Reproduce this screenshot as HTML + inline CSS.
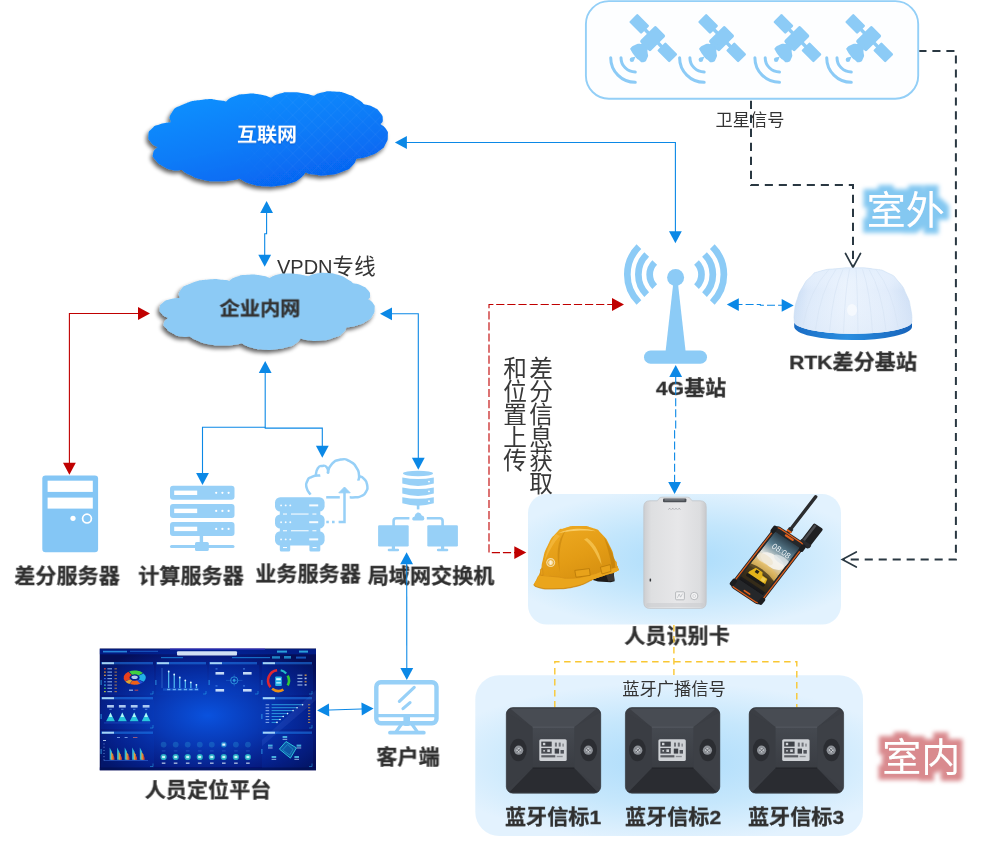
<!DOCTYPE html>
<html lang="zh-CN">
<head>
<meta charset="utf-8">
<title>人员定位系统网络拓扑</title>
<style>
html,body{margin:0;padding:0;background:#fff;}
body{width:999px;height:842px;position:relative;overflow:hidden;font-family:"Liberation Sans","Noto Sans CJK SC",sans-serif;}
#stage{position:absolute;left:0;top:0;width:999px;height:842px;overflow:hidden;}
svg{position:absolute;left:0;top:0;}
.t{position:absolute;white-space:nowrap;line-height:1;color:#303030;will-change:transform;}
.b{font-weight:700;font-size:21.1px;-webkit-text-stroke:0.3px #303030;}
.v{writing-mode:vertical-rl;font-size:23.7px;line-height:26.1px;color:#383838;letter-spacing:-0.75px;}
</style>
</head>
<body>
<div id="stage">
<svg width="999" height="842" viewBox="0 0 999 842">
<defs>
<radialGradient id="gPanel" cx="0.5" cy="0.5" r="0.6" gradientTransform="translate(0.5 0.5) scale(1 0.9) translate(-0.5 -0.5)">
<stop offset="0" stop-color="#abdcfb"/><stop offset="0.5" stop-color="#c3e6fc"/><stop offset="1" stop-color="#e2f2fe"/>
</radialGradient>
<radialGradient id="gPanel2" cx="0.5" cy="0.55" r="0.62" gradientTransform="translate(0.5 0.5) scale(1 0.8) translate(-0.5 -0.5)">
<stop offset="0" stop-color="#addcfb"/><stop offset="0.55" stop-color="#c6e7fc"/><stop offset="1" stop-color="#e3f2fe"/>
</radialGradient>
</defs>
<rect x="585.9" y="1.1" width="332.3" height="97.6" rx="23" ry="23" fill="#fdfeff" stroke="#93cff7" stroke-width="1.9"/>
<rect x="528" y="494" width="313" height="130.6" rx="19" fill="url(#gPanel)"/>
<rect x="475.3" y="675.2" width="387.7" height="160.8" rx="24" fill="url(#gPanel2)"/>
</svg>
<div class="t b" style="left:67.4px;top:576.4px;transform:translate(-50%,-50%) scaleY(0.94);">差分服务器</div>
<div class="t b" style="left:190.7px;top:576.4px;transform:translate(-50%,-50%) scaleY(0.94);">计算服务器</div>
<div class="t b" style="left:307.8px;top:573.7px;transform:translate(-50%,-50%) scaleY(0.94);">业务服务器</div>
<div class="t b" style="left:430.5px;top:575.6px;transform:translate(-50%,-50%) scaleY(0.94);">局域网交换机</div>
<div class="t b" style="left:690.6px;top:388.2px;transform:translate(-50%,-50%) scaleY(0.94);">4G基站</div>
<div class="t b" style="left:853.4px;top:361.5px;transform:translate(-50%,-50%) scaleY(0.94);">RTK差分基站</div>
<div class="t b" style="left:676.5px;top:635.7px;transform:translate(-50%,-50%) scaleY(0.94);">人员识别卡</div>
<div class="t b" style="left:207.9px;top:789.8px;transform:translate(-50%,-50%) scaleY(0.94);">人员定位平台</div>
<div class="t b" style="left:408.3px;top:756.7px;transform:translate(-50%,-50%) scaleY(0.94);">客户端</div>
<div class="t b" style="left:552.8px;top:817.1px;transform:translate(-50%,-50%) scaleY(0.94);">蓝牙信标1</div>
<div class="t b" style="left:672.5px;top:817.1px;transform:translate(-50%,-50%) scaleY(0.94);">蓝牙信标2</div>
<div class="t b" style="left:795.8px;top:817.1px;transform:translate(-50%,-50%) scaleY(0.94);">蓝牙信标3</div>
<div class="t " style="left:749.6px;top:121.2px;transform:translate(-50%,-50%);font-size:17.2px;color:#333;">卫星信号</div>
<div class="t " style="left:674px;top:690.3px;transform:translate(-50%,-50%);font-size:17.25px;color:#333;">蓝牙广播信号</div>
<div class="t" id="vpdn" style="left:277px;top:254.6px;font-size:20px;line-height:24px;color:#333;">VPDN<span style="font-size:21.4px;letter-spacing:0.3px;">专线</span></div>
<div class="t v" style="left:500.2px;top:356.3px;height:150px;">差分信息获取<br>和位置上传</div>
<svg width="999" height="842" viewBox="0 0 999 842">
<defs>
<linearGradient id="gCloud" x1="0.15" y1="0" x2="0.75" y2="1">
<stop offset="0" stop-color="#0d92ff"/><stop offset="0.5" stop-color="#0a7cf8"/><stop offset="1" stop-color="#0560f0"/>
</linearGradient>
<filter id="fSh" x="-10%" y="-15%" width="120%" height="135%">
<feGaussianBlur in="SourceAlpha" stdDeviation="1.9"/><feOffset dx="-2" dy="2.8"/>
<feComponentTransfer><feFuncA type="linear" slope="0.62"/></feComponentTransfer>
<feMerge><feMergeNode/><feMergeNode in="SourceGraphic"/></feMerge>
</filter>
<pattern id="pGrid" width="9" height="9" patternUnits="userSpaceOnUse" patternTransform="rotate(45)">
<path d="M0,0H9M0,0V9" stroke="#ffffff" stroke-opacity="0.07" stroke-width="1" fill="none"/>
</pattern>
<linearGradient id="gGridMask" x1="0" y1="0" x2="1" y2="0"><stop offset="0.35" stop-color="#000"/><stop offset="0.6" stop-color="#fff"/></linearGradient>
<mask id="mGrid"><rect x="140" y="80" width="260" height="120" fill="url(#gGridMask)"/></mask>
</defs>
<polyline points="400,142.5 675.4,142.5 675.4,238" fill="none" stroke="#0b88e6" stroke-width="1.1"/>
<polygon points="394.9,142.5 406.9,136.1 406.9,148.9" fill="#0b88e6"/>
<polygon points="675.4,243.3 669,231.3 681.8,231.3" fill="#0b88e6"/>
<polyline points="266.6,206 266.6,233.7 264.7,233.7 264.7,260" fill="none" stroke="#0b88e6" stroke-width="1.1"/>
<polygon points="266.6,200.9 273,212.9 260.2,212.9" fill="#0b88e6"/>
<polygon points="264.7,266.7 258.3,254.7 271.1,254.7" fill="#0b88e6"/>
<polyline points="145,313.5 69.4,313.5 69.4,470" fill="none" stroke="#c00000" stroke-width="1.1"/>
<polygon points="150,313.5 138,319.9 138,307.1" fill="#c00000"/>
<polygon points="69.4,474.8 63,462.8 75.8,462.8" fill="#c00000"/>
<polyline points="385,313.8 418.3,313.8 418.3,465" fill="none" stroke="#0b88e6" stroke-width="1.1"/>
<polygon points="380,313.8 392,307.4 392,320.2" fill="#0b88e6"/>
<polygon points="418.3,469.8 411.9,457.8 424.7,457.8" fill="#0b88e6"/>
<polyline points="265.2,366 265.2,428.1" fill="none" stroke="#0b88e6" stroke-width="1.1"/>
<polyline points="202.5,480 202.5,427.3 265.2,427.3" fill="none" stroke="#0b88e6" stroke-width="1.1"/>
<polyline points="264.7,428.1 322.3,428.1 322.3,453" fill="none" stroke="#0b88e6" stroke-width="1.1"/>
<polygon points="265.2,361 271.6,373 258.8,373" fill="#0b88e6"/>
<polygon points="202.5,485 196.1,473 208.9,473" fill="#0b88e6"/>
<polygon points="322.3,457.8 315.9,445.8 328.7,445.8" fill="#0b88e6"/>
<polyline points="406.7,557 406.8,675" fill="none" stroke="#0b88e6" stroke-width="1.1"/>
<polygon points="406.6,552.3 413,564.3 400.2,564.3" fill="#0b88e6"/>
<polygon points="406.8,680 400.4,668 413.2,668" fill="#0b88e6"/>
<polyline points="322,710.2 369,708.8" fill="none" stroke="#0b88e6" stroke-width="1.1"/>
<polygon points="317.1,710.4 328.9,703.6 329.3,716.4" fill="#0b88e6"/>
<polygon points="373.6,708.6 361.8,715.4 361.4,702.6" fill="#0b88e6"/>
<polyline points="493.4,304.5 489,304.5 489,552.6 515,552.6" fill="none" stroke="#c00000" stroke-width="1.1" stroke-dasharray="8.2 2.9"/>
<polyline points="496.2,304.5 613,304.5" fill="none" stroke="#c00000" stroke-width="1.1" stroke-dasharray="8.2 2.9"/>
<polygon points="624,304.5 612,310.9 612,298.1" fill="#c00000"/>
<polygon points="526.3,552.6 514.3,559 514.3,546.2" fill="#c00000"/>
<polyline points="738,304.5 760.4,304.5 760.4,305.3 782,305.3" fill="none" stroke="#0b88e6" stroke-width="1.1" stroke-dasharray="8 3.1" stroke-dashoffset="3.5"/>
<polygon points="726.8,304.6 738.8,298.2 738.8,311" fill="#0b88e6"/>
<polygon points="793.7,305.4 781.7,311.8 781.7,299" fill="#0b88e6"/>
<polyline points="675.7,376 675.7,430.5 674.6,430.5 674.6,484" fill="none" stroke="#0b88e6" stroke-width="1.1" stroke-dasharray="8 3.1"/>
<polygon points="675.7,365 682.1,377 669.3,377" fill="#0b88e6"/>
<polygon points="674.6,494.1 668.2,482.1 681,482.1" fill="#0b88e6"/>
<polyline points="751,100.8 751,185 853,185 853,266" fill="none" stroke="#2a3842" stroke-width="2" stroke-dasharray="8.1 5.9"/>
<polyline points="845.5,253.5 853,267.5 860.5,253.5" fill="none" stroke="#2a3842" stroke-width="1.7" stroke-linecap="round" stroke-linejoin="miter"/>
<polyline points="919.3,51 955.9,51 955.9,559.5 843.5,559.5" fill="none" stroke="#2a3842" stroke-width="2" stroke-dasharray="8.1 5.88" stroke-dashoffset="0.9"/>
<polyline points="856.3,552 842.3,559.5 856.3,567" fill="none" stroke="#2a3842" stroke-width="1.7" stroke-linecap="round" stroke-linejoin="miter"/>
<polyline points="673.9,625 673.9,675" fill="none" stroke="#f9c732" stroke-width="1.4" stroke-dasharray="6.5 4.5"/>
<polyline points="554.8,707.5 554.8,661.8 796.8,661.8 796.8,707.5" fill="none" stroke="#f9c732" stroke-width="1.4" stroke-dasharray="6.5 4.5"/>
<g filter="url(#fSh)"><path d="M170.7,122.2 C171,119.2 167.5,119 171.6,113.1 C175.7,107.2 172.7,109 183.1,104.6 C193.5,100.2 190.9,101.3 202.7,99.8 C214.5,98.3 210.6,99.6 218.4,100.2 C226.2,100.8 223.5,101.1 226,101.5 C228.7,99.8 227.3,99 234,96.5 C240.7,94 237.3,94.6 246,94 C254.7,93.4 251.7,93.3 260,94.6 C268.3,95.9 267.3,96.7 271,97.8 C274,96.4 273.5,95.4 280,93.6 C286.5,91.8 282.8,92.4 290.5,92.3 C298.2,92.2 295.2,92 303,93.2 C310.8,94.4 310.3,94.9 314,95.8 C316.7,94.7 315.3,94 322,92.6 C328.7,91.2 325.7,91.1 334,91.6 C342.3,92.1 339,91.3 347,94 C355,96.7 352.3,96.2 358,99.6 C363.7,103 362,102.7 364,104.3 C367,105.2 367.7,104.3 373,107 C378.3,109.7 376.7,108.2 380,112.4 C383.3,116.6 382.6,115.6 382.8,119.5 C383,123.4 381.3,122.6 380.6,124.2 C382.4,125.8 383.6,125.1 386,129 C388.4,132.9 388,131 387.8,136 C387.6,141 388.1,139.2 385.5,144 C382.9,148.8 385.5,146.3 380,150.3 C374.5,154.3 376.8,153.2 369,156 C361.2,158.8 360.7,157.9 356.5,158.8 C355,161.2 356.4,161.9 352,166 C347.6,170.1 351.5,168.2 343.4,171.2 C335.3,174.2 337.5,174 327.7,175.1 C317.9,176.2 321.4,175.5 314,174.6 C306.6,173.7 308.3,173.2 305.5,172.5 C303.7,174.5 304.8,175 300,178.5 C295.2,182 298.4,180.6 291.1,183 C283.8,185.4 286.7,184.7 278,185.8 C269.3,186.9 273.7,186.8 265,186.3 C256.3,185.8 260.6,186.9 252,184.3 C243.4,181.7 243.5,180.4 239.3,178.4 C236.9,179 239.1,179.3 232,180.2 C224.9,181.1 227.8,181.4 218,181.2 C208.2,181 212,181.8 202.7,179.7 C193.4,177.6 197,178.3 190,175 C183,171.7 184.5,171.6 181.8,169.9 C178.5,169.9 178.3,171.2 172,170 C165.7,168.8 168.5,169.6 163,166.3 C157.5,163 158.8,164.3 155.5,160 C152.2,155.7 152.4,157.8 153.1,153.5 C153.8,149.2 156.1,149.2 157.6,147.1 C155.4,145.6 154,146.4 151,142.5 C148,138.6 148.2,140 148.5,135.3 C148.8,130.6 148.2,132.2 152,128.5 C155.8,124.8 153.8,126.3 160,124.2 C166.2,122.1 167.1,122.9 170.7,122.2 Z" fill="url(#gCloud)"/></g>
<path d="M170.7,122.2 C171,119.2 167.5,119 171.6,113.1 C175.7,107.2 172.7,109 183.1,104.6 C193.5,100.2 190.9,101.3 202.7,99.8 C214.5,98.3 210.6,99.6 218.4,100.2 C226.2,100.8 223.5,101.1 226,101.5 C228.7,99.8 227.3,99 234,96.5 C240.7,94 237.3,94.6 246,94 C254.7,93.4 251.7,93.3 260,94.6 C268.3,95.9 267.3,96.7 271,97.8 C274,96.4 273.5,95.4 280,93.6 C286.5,91.8 282.8,92.4 290.5,92.3 C298.2,92.2 295.2,92 303,93.2 C310.8,94.4 310.3,94.9 314,95.8 C316.7,94.7 315.3,94 322,92.6 C328.7,91.2 325.7,91.1 334,91.6 C342.3,92.1 339,91.3 347,94 C355,96.7 352.3,96.2 358,99.6 C363.7,103 362,102.7 364,104.3 C367,105.2 367.7,104.3 373,107 C378.3,109.7 376.7,108.2 380,112.4 C383.3,116.6 382.6,115.6 382.8,119.5 C383,123.4 381.3,122.6 380.6,124.2 C382.4,125.8 383.6,125.1 386,129 C388.4,132.9 388,131 387.8,136 C387.6,141 388.1,139.2 385.5,144 C382.9,148.8 385.5,146.3 380,150.3 C374.5,154.3 376.8,153.2 369,156 C361.2,158.8 360.7,157.9 356.5,158.8 C355,161.2 356.4,161.9 352,166 C347.6,170.1 351.5,168.2 343.4,171.2 C335.3,174.2 337.5,174 327.7,175.1 C317.9,176.2 321.4,175.5 314,174.6 C306.6,173.7 308.3,173.2 305.5,172.5 C303.7,174.5 304.8,175 300,178.5 C295.2,182 298.4,180.6 291.1,183 C283.8,185.4 286.7,184.7 278,185.8 C269.3,186.9 273.7,186.8 265,186.3 C256.3,185.8 260.6,186.9 252,184.3 C243.4,181.7 243.5,180.4 239.3,178.4 C236.9,179 239.1,179.3 232,180.2 C224.9,181.1 227.8,181.4 218,181.2 C208.2,181 212,181.8 202.7,179.7 C193.4,177.6 197,178.3 190,175 C183,171.7 184.5,171.6 181.8,169.9 C178.5,169.9 178.3,171.2 172,170 C165.7,168.8 168.5,169.6 163,166.3 C157.5,163 158.8,164.3 155.5,160 C152.2,155.7 152.4,157.8 153.1,153.5 C153.8,149.2 156.1,149.2 157.6,147.1 C155.4,145.6 154,146.4 151,142.5 C148,138.6 148.2,140 148.5,135.3 C148.8,130.6 148.2,132.2 152,128.5 C155.8,124.8 153.8,126.3 160,124.2 C166.2,122.1 167.1,122.9 170.7,122.2 Z" fill="url(#pGrid)" mask="url(#mGrid)"/>
<g filter="url(#fSh)"><path d="M170.7,122.2 C171,119.2 167.5,119 171.6,113.1 C175.7,107.2 172.7,109 183.1,104.6 C193.5,100.2 190.9,101.3 202.7,99.8 C214.5,98.3 210.6,99.6 218.4,100.2 C226.2,100.8 223.5,101.1 226,101.5 C228.7,99.8 227.3,99 234,96.5 C240.7,94 237.3,94.6 246,94 C254.7,93.4 251.7,93.3 260,94.6 C268.3,95.9 267.3,96.7 271,97.8 C274,96.4 273.5,95.4 280,93.6 C286.5,91.8 282.8,92.4 290.5,92.3 C298.2,92.2 295.2,92 303,93.2 C310.8,94.4 310.3,94.9 314,95.8 C316.7,94.7 315.3,94 322,92.6 C328.7,91.2 325.7,91.1 334,91.6 C342.3,92.1 339,91.3 347,94 C355,96.7 352.3,96.2 358,99.6 C363.7,103 362,102.7 364,104.3 C367,105.2 367.7,104.3 373,107 C378.3,109.7 376.7,108.2 380,112.4 C383.3,116.6 382.6,115.6 382.8,119.5 C383,123.4 381.3,122.6 380.6,124.2 C382.4,125.8 383.6,125.1 386,129 C388.4,132.9 388,131 387.8,136 C387.6,141 388.1,139.2 385.5,144 C382.9,148.8 385.5,146.3 380,150.3 C374.5,154.3 376.8,153.2 369,156 C361.2,158.8 360.7,157.9 356.5,158.8 C355,161.2 356.4,161.9 352,166 C347.6,170.1 351.5,168.2 343.4,171.2 C335.3,174.2 337.5,174 327.7,175.1 C317.9,176.2 321.4,175.5 314,174.6 C306.6,173.7 308.3,173.2 305.5,172.5 C303.7,174.5 304.8,175 300,178.5 C295.2,182 298.4,180.6 291.1,183 C283.8,185.4 286.7,184.7 278,185.8 C269.3,186.9 273.7,186.8 265,186.3 C256.3,185.8 260.6,186.9 252,184.3 C243.4,181.7 243.5,180.4 239.3,178.4 C236.9,179 239.1,179.3 232,180.2 C224.9,181.1 227.8,181.4 218,181.2 C208.2,181 212,181.8 202.7,179.7 C193.4,177.6 197,178.3 190,175 C183,171.7 184.5,171.6 181.8,169.9 C178.5,169.9 178.3,171.2 172,170 C165.7,168.8 168.5,169.6 163,166.3 C157.5,163 158.8,164.3 155.5,160 C152.2,155.7 152.4,157.8 153.1,153.5 C153.8,149.2 156.1,149.2 157.6,147.1 C155.4,145.6 154,146.4 151,142.5 C148,138.6 148.2,140 148.5,135.3 C148.8,130.6 148.2,132.2 152,128.5 C155.8,124.8 153.8,126.3 160,124.2 C166.2,122.1 167.1,122.9 170.7,122.2 Z" fill="#8ccaf5" transform="matrix(0.8977 0 0 0.8112 26.47 198.58)"/></g>
<defs>
<linearGradient id="gDome" x1="0" y1="0" x2="1" y2="0">
<stop offset="0" stop-color="#c9dcf4"/><stop offset="0.12" stop-color="#dce9fa"/><stop offset="0.45" stop-color="#ebf3fd"/><stop offset="0.8" stop-color="#e1ecfb"/><stop offset="1" stop-color="#cddef5"/>
</linearGradient>
<linearGradient id="gDomeV" x1="0" y1="0" x2="0" y2="1">
<stop offset="0" stop-color="#e2eefc" stop-opacity="0.9"/><stop offset="0.35" stop-color="#eef5fe" stop-opacity="0"/><stop offset="1" stop-color="#dfeaf8" stop-opacity="0.5"/>
</linearGradient>
<linearGradient id="gRing" x1="0" y1="0" x2="1" y2="0">
<stop offset="0" stop-color="#1a6cc4"/><stop offset="0.45" stop-color="#2a8ee0"/><stop offset="1" stop-color="#1763ba"/>
</linearGradient>
<radialGradient id="gDash" cx="0.5" cy="0.55" r="0.62">
<stop offset="0" stop-color="#0a52de"/><stop offset="0.4" stop-color="#0838b4"/><stop offset="0.75" stop-color="#061c84"/><stop offset="1" stop-color="#040e58"/>
</radialGradient>
<linearGradient id="gHelm" x1="0.2" y1="0" x2="0.8" y2="1">
<stop offset="0" stop-color="#eeaa22"/><stop offset="0.5" stop-color="#e39c15"/><stop offset="1" stop-color="#d08a0e"/>
</linearGradient>
<linearGradient id="gCard" x1="0" y1="0" x2="1" y2="0">
<stop offset="0" stop-color="#cdced1"/><stop offset="0.12" stop-color="#dedfe1"/><stop offset="0.55" stop-color="#e7e7e9"/><stop offset="0.9" stop-color="#dcdddf"/><stop offset="1" stop-color="#c8c9cc"/>
</linearGradient>
<linearGradient id="gScreen" x1="0" y1="0" x2="0" y2="1">
<stop offset="0" stop-color="#2c3e4a"/><stop offset="0.2" stop-color="#587c8e"/><stop offset="0.4" stop-color="#dfe2de"/><stop offset="0.56" stop-color="#d9bd82"/><stop offset="0.7" stop-color="#8a6a2a"/><stop offset="0.85" stop-color="#2a2620"/><stop offset="1" stop-color="#15161a"/>
</linearGradient>
</defs>
<defs><g id="sat" fill="#8ccbf6"><rect x="-4.7" y="-39.7" width="17.2" height="11.8" rx="1.2" transform="rotate(45 3.9 -33.8)"/><rect x="23.4" y="-11.2" width="17.2" height="11.8" rx="1.2" transform="rotate(45 32 -5.3)"/><path d="M9.7,-28.2 L26.7,-10.7" stroke="#8ccbf6" stroke-width="3.4" fill="none"/><rect x="6.1" y="-26.4" width="22.5" height="14.8" rx="1.8" transform="rotate(-45 17.3 -19)"/><rect x="6.9" y="-15.8" width="6" height="8.5" rx="1" transform="rotate(-45 9.9 -11.5)"/><path d="M-5.3,-8.9 C-3.8,-10.1 -4.6,-11 -0.8,-12.5 C3,-14 2.4,-14.3 6.2,-13.5 C10,-12.7 8.7,-13 10.7,-10.2 C12.7,-7.4 11.9,-8.8 12.3,-5.2 C12.7,-1.6 13.4,-2.7 11.9,0.5 C10.4,3.7 10.8,4 7.9,4.5 C5,5 6.3,4.4 3.3,2.1 C0.3,-0.2 1.8,1.2 -1.1,-2.5 C-4,-6.2 -3.9,-6.8 -5.3,-8.9 Z"/><circle cx="-3.4" cy="2" r="2.2"/><path d="M-4.1,0.1 L0.3,-1.1 L-1.5,3.1 Z"/><path d="M-14.3,0 A14.3,14.3 0 0 0 0,14.3" fill="none" stroke="#8ccbf6" stroke-width="3" stroke-linecap="round"/><path d="M-24.6,0 A24.6,24.6 0 0 0 0,24.6" fill="none" stroke="#8ccbf6" stroke-width="3" stroke-linecap="round"/></g></defs>
<use href="#sat" x="635.3" y="57.7"/>
<use href="#sat" x="704.2" y="57.7"/>
<use href="#sat" x="779.5" y="57.7"/>
<use href="#sat" x="851.3" y="57.7"/>
<g fill="#8ccbf6"><circle cx="675.6" cy="277.6" r="8.5"/><path d="M673.3,283 L677.9,283 L685.8,353 L665.4,353 Z"/><rect x="644" y="350.6" width="63" height="13.2" rx="6.6"/><path d="M638.9,246.7 A39.4,39.4 0 0 0 638.9,302.5" fill="none" stroke="#8ccbf6" stroke-width="6.7"/><path d="M646.7,254.5 A28.4,28.4 0 0 0 646.7,294.7" fill="none" stroke="#8ccbf6" stroke-width="6.7"/><path d="M654.7,262.5 A17.1,17.1 0 0 0 654.7,286.7" fill="none" stroke="#8ccbf6" stroke-width="6.7"/><path d="M712.3,246.7 A39.4,39.4 0 0 1 712.3,302.5" fill="none" stroke="#8ccbf6" stroke-width="6.7"/><path d="M704.5,254.5 A28.4,28.4 0 0 1 704.5,294.7" fill="none" stroke="#8ccbf6" stroke-width="6.7"/><path d="M696.5,262.5 A17.1,17.1 0 0 1 696.5,286.7" fill="none" stroke="#8ccbf6" stroke-width="6.7"/></g>
<path d="M794.2,321.5 V326.6 A58.9,13.3 0 0 0 912,327 V322 A58.9,12 0 0 1 794.2,321.5 Z" fill="url(#gRing)"/>
<path d="M794.2,321.5 C794.3,318.1 793.5,318.8 794.5,311.4 C795.5,304 794.5,307.3 797.2,299.2 C799.9,291.1 798.1,294.5 802.6,287 C807.1,279.5 804.9,282.1 810.7,276.8 C816.5,271.5 810.7,274 820.1,271.2 C829.5,268.4 828.2,269.6 839,268.5 C849.8,267.4 841.3,267.8 852.6,267.9 C863.9,268 861.1,267.2 872.8,268.9 C884.5,270.6 879.1,268.7 887.7,272.9 C896.3,277.1 892.2,274.2 898.5,281.6 C904.8,289 902.5,286.1 906.6,295.1 C910.7,304.1 908.9,299.6 910.7,308.6 C912.5,317.6 911.6,317.7 912,322.2 A58.9,12 0 0 1 794.2,321.5 Z" fill="url(#gDome)"/>
<path d="M794.2,321.5 C794.3,318.1 793.5,318.8 794.5,311.4 C795.5,304 794.5,307.3 797.2,299.2 C799.9,291.1 798.1,294.5 802.6,287 C807.1,279.5 804.9,282.1 810.7,276.8 C816.5,271.5 810.7,274 820.1,271.2 C829.5,268.4 828.2,269.6 839,268.5 C849.8,267.4 841.3,267.8 852.6,267.9 C863.9,268 861.1,267.2 872.8,268.9 C884.5,270.6 879.1,268.7 887.7,272.9 C896.3,277.1 892.2,274.2 898.5,281.6 C904.8,289 902.5,286.1 906.6,295.1 C910.7,304.1 908.9,299.6 910.7,308.6 C912.5,317.6 911.6,317.7 912,322.2 A58.9,12 0 0 1 794.2,321.5 Z" fill="url(#gDomeV)"/>
<g fill="none" stroke="#d5e3f4" stroke-width="0.8" stroke-opacity="0.75"><path d="M829,269.4 Q809.5,290 803,325.5" /><path d="M836,269.4 Q820.6,290 815.5,329.4" /><path d="M843,269.4 Q832.9,290 829.5,332" /><path d="M849.5,269.4 Q845,290 843.5,333.4" /><path d="M856,269.4 Q857.5,290 858,333.7" /><path d="M862.5,269.4 Q870,290 872.5,332.6" /><path d="M869,269.4 Q881.8,290 886,330.4" /><path d="M876,269.4 Q892.5,290 898,327.2" /></g>
<ellipse cx="852" cy="310" rx="5" ry="6" fill="#ffffff" fill-opacity="0.55"/>
<path d="M794.2,321.5 C794.3,318.1 793.5,318.8 794.5,311.4 C795.5,304 794.5,307.3 797.2,299.2 C799.9,291.1 798.1,294.5 802.6,287 C807.1,279.5 804.9,282.1 810.7,276.8 C816.5,271.5 810.7,274 820.1,271.2 C829.5,268.4 828.2,269.6 839,268.5 C849.8,267.4 841.3,267.8 852.6,267.9 C863.9,268 861.1,267.2 872.8,268.9 C884.5,270.6 879.1,268.7 887.7,272.9 C896.3,277.1 892.2,274.2 898.5,281.6 C904.8,289 902.5,286.1 906.6,295.1 C910.7,304.1 908.9,299.6 910.7,308.6 C912.5,317.6 911.6,317.7 912,322.2" fill="none" stroke="#c9dcf2" stroke-width="0.7" stroke-opacity="0.8"/>
<g><rect x="42.3" y="475.4" width="55.8" height="76.8" rx="3.2" fill="#84c6f5"/><rect x="47.6" y="480.7" width="45.2" height="11.2" fill="#fff"/><rect x="47.6" y="497.6" width="45.2" height="11" fill="#fff"/><circle cx="73" cy="518.3" r="2.6" fill="#fff"/><circle cx="87" cy="518.6" r="4.4" fill="none" stroke="#fff" stroke-width="1.7"/></g>
<g><rect x="170" y="485.8" width="64.5" height="14" rx="3" fill="#97d0f7"/><rect x="174.2" y="490.6" width="23" height="4.4" fill="#fff"/><circle cx="216.2" cy="492.8" r="1.1" fill="#fff"/><circle cx="222.4" cy="492.8" r="1.1" fill="#fff"/><circle cx="228.6" cy="492.8" r="1.1" fill="#fff"/><rect x="170" y="503.9" width="64.5" height="14" rx="3" fill="#97d0f7"/><rect x="174.2" y="508.7" width="23" height="4.4" fill="#fff"/><circle cx="216.2" cy="510.9" r="1.1" fill="#fff"/><circle cx="222.4" cy="510.9" r="1.1" fill="#fff"/><circle cx="228.6" cy="510.9" r="1.1" fill="#fff"/><rect x="170" y="521.9" width="64.5" height="14" rx="3" fill="#97d0f7"/><rect x="174.2" y="526.7" width="23" height="4.4" fill="#fff"/><circle cx="216.2" cy="528.9" r="1.1" fill="#fff"/><circle cx="222.4" cy="528.9" r="1.1" fill="#fff"/><circle cx="228.6" cy="528.9" r="1.1" fill="#fff"/><rect x="199.7" y="535" width="3.4" height="9" fill="#97d0f7"/><rect x="170" y="545" width="64.5" height="3" rx="1.5" fill="#97d0f7"/><rect x="195" y="542" width="13.8" height="9" rx="1.6" fill="#97d0f7"/></g>
<g fill="#97d0f7"><rect x="275" y="497.3" width="49.6" height="14.2" rx="5.2"/><rect x="275" y="514.4" width="49.6" height="14.2" rx="5.2"/><rect x="275" y="531.3" width="49.6" height="14.2" rx="5.2"/><rect x="279.8" y="509" width="40.5" height="8"/><rect x="279.8" y="526" width="40.5" height="8"/><rect x="279.8" y="543" width="10.4" height="8.6" rx="1.5"/><rect x="309.4" y="543" width="10.9" height="8.6" rx="1.5"/></g>
<g fill="#fff" fill-opacity="0.92"><circle cx="281.1" cy="505.4" r="0.95"/><circle cx="285.7" cy="505.4" r="0.95"/><circle cx="290.3" cy="505.4" r="0.95"/><rect x="309.2" y="504.4" width="9" height="2" /><circle cx="281.1" cy="522.2" r="0.95"/><circle cx="285.7" cy="522.2" r="0.95"/><circle cx="290.3" cy="522.2" r="0.95"/><rect x="309.2" y="521.2" width="9" height="2" /><circle cx="281.1" cy="539.4" r="0.95"/><circle cx="285.7" cy="539.4" r="0.95"/><circle cx="290.3" cy="539.4" r="0.95"/><rect x="309.2" y="538.4" width="9" height="2" /><rect x="283" y="513.5" width="4" height="1.1"/><rect x="291" y="513.5" width="17.6" height="1.1"/><rect x="312.4" y="513.5" width="4" height="1.1"/><rect x="283" y="530.2" width="4" height="1.1"/><rect x="291" y="530.2" width="17.6" height="1.1"/><rect x="312.4" y="530.2" width="4" height="1.1"/><rect x="283" y="547" width="4" height="1.1"/><rect x="312.6" y="547" width="4" height="1.1"/></g>
<g fill="none" stroke="#97d0f7" stroke-width="2.5" stroke-linecap="butt" stroke-linejoin="miter"><path d="M310.5,494.6 C309.2,492.4 307.8,492.4 306.7,488 C305.6,483.6 305.5,485 307.2,481.3 C308.9,477.6 307.4,478.9 311.8,476.9 C316.2,474.9 317.5,475.9 320.3,475.4"/><path d="M315.8,475.2 C316.4,473 315.5,471.7 317.6,468.6 C319.7,465.5 319.1,466.2 322.2,465.9 C325.3,465.6 324.9,465 326.9,467.6 C328.9,470.2 327.8,471.6 328.2,473.6"/><path d="M327.6,473.4 C328.9,470.5 327.1,469.2 331.4,464.6 C335.7,460 334.4,460.7 340.5,459.6 C346.6,458.5 344.5,458.7 349.7,461.2 C354.9,463.7 353.1,462.7 356.2,467.2 C359.3,471.7 358.3,470.3 359,474.8 C359.7,479.3 358.5,478.7 358.2,480.6"/><path d="M358.8,476.2 C360.5,477.1 361.2,475.8 364,478.8 C366.8,481.8 366.5,481 367.2,485.3 C367.9,489.6 367.9,488.2 366,491.8 C364.1,495.4 364.9,494.2 361.4,496 C357.9,497.8 359.4,496.9 355.5,497.3 C351.6,497.7 351.6,497.3 349.7,497.3"/><path d="M326.2,497.3 H339.8"/><path d="M344.5,491.5 V522.1 H338.6"/><path d="M326.3,522.1 H328.8 M332,522.1 H334.6"/></g>
<path d="M344.5,487 L350.2,492.8 H338.8 Z" fill="#97d0f7" stroke="#97d0f7" stroke-width="1" stroke-linejoin="round"/>
<g fill="#97d0f7"><ellipse cx="418" cy="473.5" rx="15" ry="2.7"/><path d="M402.3,477.6 Q418,480.6 433.8,477.6 V483.6 Q418,488.4 402.3,483.6 Z"/><path d="M402.3,487.5 Q418,490.5 433.8,487.5 V493.5 Q418,498.3 402.3,493.5 Z"/><path d="M402.3,497.3 Q418,500.3 433.8,497.3 V503.3 Q418,508.1 402.3,503.3 Z"/><rect x="416.8" y="503" width="2.6" height="6.4"/><path d="M413.6,520.6 Q412,520.4 412.2,518.7 Q412.4,517 414.4,516.8 Q415,513.6 417.6,512.6 Q420.4,512 421.8,515.4 Q424.2,515.6 424.4,518.4 Q424.4,520.4 422.6,520.6 Z"/><rect x="378.1" y="525.2" width="30.6" height="21.3" rx="1.2"/><rect x="391.8" y="546" width="3.2" height="3.4"/><rect x="387.7" y="548.8" width="11.4" height="2.4" rx="1.2"/><rect x="427.3" y="525.2" width="30.6" height="21.3" rx="1.2"/><rect x="441" y="546" width="3.2" height="3.4"/><rect x="436.9" y="548.8" width="11.4" height="2.4" rx="1.2"/></g>
<g fill="#fff"><circle cx="429" cy="481.6" r="0.9"/><circle cx="429" cy="491.3" r="0.9"/><circle cx="429" cy="501.2" r="0.9"/></g>
<g fill="none" stroke="#97d0f7" stroke-width="2.6"><path d="M409.4,518.3 H396.4 Q393.6,518.3 393.6,521 V526"/><path d="M426.8,518.3 H439.8 Q442.6,518.3 442.6,521 V526"/></g>
<g><rect x="376.3" y="682.3" width="60.2" height="41" rx="4.5" fill="none" stroke="#97d0f7" stroke-width="4.4"/><path d="M377,715.7 H436" stroke="#97d0f7" stroke-width="3.2" fill="none"/><path d="M414.2,687.4 L399.4,701.4 M410,702.6 L403,708.6" stroke="#97d0f7" stroke-width="3.2" stroke-linecap="round" fill="none"/><rect x="403.4" y="714" width="6.6" height="12" rx="2" fill="#97d0f7"/><path d="M401.6,724 L395.5,732.6 M411.8,724 L417.9,732.6" stroke="#97d0f7" stroke-width="3.2" fill="none"/><path d="M390,732.7 H423.8" stroke="#97d0f7" stroke-width="3.8" stroke-linecap="round" fill="none"/></g>
<defs><filter id="fSoft" x="-2%" y="-2%" width="104%" height="104%"><feGaussianBlur stdDeviation="0.45"/></filter><clipPath id="cpDash"><rect x="99.5" y="648.3" width="216.5" height="122.3"/></clipPath></defs><g clip-path="url(#cpDash)"><rect x="99.5" y="648.3" width="216.5" height="122.3" fill="url(#gDash)"/><g filter="url(#fSoft)"><rect x="170" y="648.3" width="95" height="1.6" fill="#4a3ad0" fill-opacity="0.8"/><rect x="99.5" y="649.1" width="216.5" height="5.2" fill="#0a2aa8" fill-opacity="0.55"/><rect x="99.5" y="767.4" width="216.5" height="3.2" fill="#050f55" fill-opacity="0.6"/><rect x="177" y="651.2" width="60" height="4.2" rx="1" fill="#e8f6ff" fill-opacity="0.9"/><rect x="103" y="650.8" width="24" height="1.6" fill="#2aa0f0" fill-opacity="0.8"/><rect x="130" y="650.8" width="28" height="1.2" fill="#1a70d8" fill-opacity="0.6"/><rect x="277" y="650.6" width="10" height="2" fill="#30c0f0" fill-opacity="0.8"/><rect x="299" y="650.6" width="9" height="2" fill="#30c0f0" fill-opacity="0.8"/><rect x="161" y="657" width="22" height="1.2" fill="#1e90e8" fill-opacity="0.7"/><rect x="232" y="657" width="38" height="1.2" fill="#1e90e8" fill-opacity="0.7"/><rect x="272" y="656.2" width="8" height="2.4" fill="#29b4ee" fill-opacity="0.7"/><rect x="284" y="656" width="7" height="2.6" fill="#29b4ee" fill-opacity="0.7"/><rect x="296" y="656.6" width="10" height="2" fill="#1b6fe0" fill-opacity="0.7"/><rect x="101" y="662" width="52" height="2.4" fill="#1c7ff0" fill-opacity="0.55"/><rect x="102" y="662.2" width="12" height="2" fill="#bfeaff" fill-opacity="0.85"/><rect x="156" y="662" width="50" height="2.4" fill="#1c7ff0" fill-opacity="0.55"/><rect x="157" y="662.2" width="12" height="2" fill="#bfeaff" fill-opacity="0.85"/><rect x="209" y="662" width="48" height="2.4" fill="#1c7ff0" fill-opacity="0.55"/><rect x="210" y="662.2" width="12" height="2" fill="#bfeaff" fill-opacity="0.85"/><rect x="262" y="662" width="50" height="2.4" fill="#1c7ff0" fill-opacity="0.55"/><rect x="263" y="662.2" width="12" height="2" fill="#bfeaff" fill-opacity="0.85"/><rect x="101" y="697" width="52" height="2.4" fill="#1c7ff0" fill-opacity="0.55"/><rect x="102" y="697.2" width="12" height="2" fill="#bfeaff" fill-opacity="0.85"/><rect x="262" y="697" width="50" height="2.4" fill="#1c7ff0" fill-opacity="0.55"/><rect x="263" y="697.2" width="12" height="2" fill="#bfeaff" fill-opacity="0.85"/><rect x="101" y="731.5" width="52" height="2.4" fill="#1c7ff0" fill-opacity="0.55"/><rect x="102" y="731.7" width="12" height="2" fill="#bfeaff" fill-opacity="0.85"/><rect x="262" y="731.5" width="50" height="2.4" fill="#1c7ff0" fill-opacity="0.55"/><rect x="263" y="731.7" width="12" height="2" fill="#bfeaff" fill-opacity="0.85"/><rect x="101" y="665" width="53" height="30" fill="#0b3cc8" fill-opacity="0.16"/><path d="M150,694 h3 v-3" fill="none" stroke="#2fb6ee" stroke-width="0.6" stroke-opacity="0.8"/><rect x="156" y="665" width="51" height="30" fill="#0b3cc8" fill-opacity="0.16"/><path d="M203,694 h3 v-3" fill="none" stroke="#2fb6ee" stroke-width="0.6" stroke-opacity="0.8"/><rect x="209" y="665" width="50" height="30" fill="#0b3cc8" fill-opacity="0.16"/><path d="M255,694 h3 v-3" fill="none" stroke="#2fb6ee" stroke-width="0.6" stroke-opacity="0.8"/><rect x="262" y="665" width="51" height="30" fill="#0b3cc8" fill-opacity="0.16"/><path d="M309,694 h3 v-3" fill="none" stroke="#2fb6ee" stroke-width="0.6" stroke-opacity="0.8"/><rect x="101" y="700" width="53" height="29" fill="#0b3cc8" fill-opacity="0.16"/><path d="M150,728 h3 v-3" fill="none" stroke="#2fb6ee" stroke-width="0.6" stroke-opacity="0.8"/><rect x="262" y="700" width="51" height="29" fill="#0b3cc8" fill-opacity="0.16"/><path d="M309,728 h3 v-3" fill="none" stroke="#2fb6ee" stroke-width="0.6" stroke-opacity="0.8"/><rect x="101" y="734.5" width="53" height="33" fill="#0b3cc8" fill-opacity="0.16"/><path d="M150,766.5 h3 v-3" fill="none" stroke="#2fb6ee" stroke-width="0.6" stroke-opacity="0.8"/><rect x="262" y="734.5" width="51" height="33" fill="#0b3cc8" fill-opacity="0.16"/><path d="M309,766.5 h3 v-3" fill="none" stroke="#2fb6ee" stroke-width="0.6" stroke-opacity="0.8"/><rect x="104" y="668.2" width="1.8" height="1.2" fill="#d04040"/><rect x="107.4" y="668.2" width="4.6" height="1.2" fill="#9fc8ff" fill-opacity="0.75"/><rect x="114.5" y="668.2" width="2.4" height="1.2" fill="#d09040" fill-opacity="0.7"/><rect x="104" y="671.5" width="1.8" height="1.2" fill="#e09030"/><rect x="107.4" y="671.5" width="4.6" height="1.2" fill="#9fc8ff" fill-opacity="0.75"/><rect x="114.5" y="671.5" width="2.4" height="1.2" fill="#d09040" fill-opacity="0.7"/><rect x="104" y="674.7" width="1.8" height="1.2" fill="#e0a040"/><rect x="107.4" y="674.7" width="4.6" height="1.2" fill="#9fc8ff" fill-opacity="0.75"/><rect x="114.5" y="674.7" width="2.4" height="1.2" fill="#d09040" fill-opacity="0.7"/><rect x="104" y="678" width="1.8" height="1.2" fill="#3060e0"/><rect x="107.4" y="678" width="4.6" height="1.2" fill="#9fc8ff" fill-opacity="0.75"/><rect x="114.5" y="678" width="2.4" height="1.2" fill="#d09040" fill-opacity="0.7"/><rect x="104" y="681.2" width="1.8" height="1.2" fill="#3a80e8"/><rect x="107.4" y="681.2" width="4.6" height="1.2" fill="#9fc8ff" fill-opacity="0.75"/><rect x="114.5" y="681.2" width="2.4" height="1.2" fill="#d09040" fill-opacity="0.7"/><rect x="104" y="684.5" width="1.8" height="1.2" fill="#30b0e0"/><rect x="107.4" y="684.5" width="4.6" height="1.2" fill="#9fc8ff" fill-opacity="0.75"/><rect x="114.5" y="684.5" width="2.4" height="1.2" fill="#d09040" fill-opacity="0.7"/><rect x="104" y="687.7" width="1.8" height="1.2" fill="#40c060"/><rect x="107.4" y="687.7" width="4.6" height="1.2" fill="#9fc8ff" fill-opacity="0.75"/><rect x="114.5" y="687.7" width="2.4" height="1.2" fill="#d09040" fill-opacity="0.7"/><rect x="104" y="691" width="1.8" height="1.2" fill="#b0c040"/><rect x="107.4" y="691" width="4.6" height="1.2" fill="#9fc8ff" fill-opacity="0.75"/><rect x="114.5" y="691" width="2.4" height="1.2" fill="#d09040" fill-opacity="0.7"/><path d="M125.1,681.2 A11,7.2 0 0 1 128.3,671.7 L131.7,675 A5,3.2 0 0 0 130.3,679.2 Z" fill="#e8401c"/><path d="M129.1,671.4 A11,7.2 0 0 1 143,673 L138.4,675.5 A5,3.2 0 0 0 132.1,674.8 Z" fill="#40d040"/><path d="M143.6,673.5 A11,7.2 0 0 1 143.6,681.7 L138.7,679.4 A5,3.2 0 0 0 138.7,675.8 Z" fill="#20b0e8"/><path d="M143,682.2 A11,7.2 0 0 1 136.5,684.7 L135.5,680.8 A5,3.2 0 0 0 138.4,679.7 Z" fill="#2850d8"/><path d="M140.1,683.8 A11,7.2 0 0 1 130,684.1 L132.5,680.5 A5,3.2 0 0 0 137.1,680.4 Z" fill="#f06018"/><path d="M129.4,684 A11,7.2 0 0 1 125.3,681.4 L130.4,679.3 A5,3.2 0 0 0 132.3,680.4 Z" fill="#e0a030"/><ellipse cx="134.6" cy="677.2" rx="3.2" ry="1.8" fill="#cfe6ff" fill-opacity="0.85"/><rect x="129" y="689.6" width="4" height="1.2" fill="#bcd8ff" fill-opacity="0.8"/><rect x="134.6" y="689.6" width="3.6" height="1.2" fill="#d04848" fill-opacity="0.8"/><rect x="168" y="671.5" width="1.3" height="16.5" fill="#58c8f8" fill-opacity="0.85"/><circle cx="168.7" cy="671.5" r="0.9" fill="#d8f4ff"/><rect x="167.1" y="688.8" width="3.2" height="1.4" fill="#a8dcff" fill-opacity="0.85"/><rect x="173.6" y="674.5" width="1.3" height="13.5" fill="#58c8f8" fill-opacity="0.85"/><circle cx="174.2" cy="674.5" r="0.9" fill="#d8f4ff"/><rect x="172.7" y="688.8" width="3.2" height="1.4" fill="#a8dcff" fill-opacity="0.85"/><rect x="179.1" y="677.5" width="1.3" height="10.5" fill="#58c8f8" fill-opacity="0.85"/><circle cx="179.8" cy="677.5" r="0.9" fill="#d8f4ff"/><rect x="178.2" y="688.8" width="3.2" height="1.4" fill="#a8dcff" fill-opacity="0.85"/><rect x="184.7" y="680.4" width="1.3" height="7.6" fill="#58c8f8" fill-opacity="0.85"/><circle cx="185.3" cy="680.4" r="0.9" fill="#d8f4ff"/><rect x="183.8" y="688.8" width="3.2" height="1.4" fill="#a8dcff" fill-opacity="0.85"/><rect x="190.2" y="682.4" width="1.3" height="5.6" fill="#58c8f8" fill-opacity="0.85"/><circle cx="190.8" cy="682.4" r="0.9" fill="#d8f4ff"/><rect x="189.3" y="688.8" width="3.2" height="1.4" fill="#a8dcff" fill-opacity="0.85"/><rect x="195.8" y="684.8" width="1.3" height="3.2" fill="#58c8f8" fill-opacity="0.85"/><circle cx="196.4" cy="684.8" r="0.9" fill="#d8f4ff"/><rect x="194.8" y="688.8" width="3.2" height="1.4" fill="#a8dcff" fill-opacity="0.85"/><rect x="163" y="688.4" width="36" height="2.2" fill="#2a8af0" fill-opacity="0.35"/><rect x="161.6" y="668" width="0.8" height="20" fill="#58a8f0" fill-opacity="0.5"/><rect x="215.5" y="672" width="8.6" height="2.6" fill="#d8ecff" fill-opacity="0.9"/><rect x="215.5" y="668.4" width="2" height="1" fill="#60a8ff" fill-opacity="0.7"/><rect x="243" y="672" width="8.6" height="2.6" fill="#d8ecff" fill-opacity="0.9"/><rect x="243" y="668.4" width="2" height="1" fill="#60a8ff" fill-opacity="0.7"/><rect x="215.5" y="689" width="8.6" height="2.6" fill="#d8ecff" fill-opacity="0.9"/><rect x="215.5" y="685.4" width="2" height="1" fill="#60a8ff" fill-opacity="0.7"/><rect x="243" y="689" width="8.6" height="2.6" fill="#d8ecff" fill-opacity="0.9"/><rect x="243" y="685.4" width="2" height="1" fill="#60a8ff" fill-opacity="0.7"/><circle cx="234.2" cy="680.4" r="3.6" fill="none" stroke="#38b0e8" stroke-width="0.9" stroke-opacity="0.8"/><circle cx="234.2" cy="680.4" r="1.3" fill="#38c0f0" fill-opacity="0.8"/><path d="M226,680.4 H242.4 M234.2,674.4 V686.4" stroke="#2c90e0" stroke-width="0.5" stroke-opacity="0.7"/><path d="M270.5,687.2 A10.4,10.4 0 0 1 277.1,670.2" fill="none" stroke="#e02830" stroke-width="2.6"/><path d="M280.7,670.3 A10.4,10.4 0 0 1 286.2,673.5" fill="none" stroke="#20b8c8" stroke-width="2.2"/><path d="M287.7,675.6 A10.4,10.4 0 0 1 287.7,685.4" fill="none" stroke="#30c838" stroke-width="2.6"/><path d="M283.4,689.7 A10.4,10.4 0 0 1 272.1,688.7" fill="none" stroke="#e89018" stroke-width="2.6"/><rect x="275.2" y="676.4" width="6.6" height="9.6" rx="0.8" fill="#28c0f0" fill-opacity="0.9"/><rect x="276.2" y="678.2" width="4.6" height="2" fill="#d8f6ff"/><rect x="276.2" y="682" width="4.6" height="1.6" fill="#9fe6ff"/><rect x="297.4" y="674.6" width="5" height="1.2" fill="#b8d8ff" fill-opacity="0.75"/><rect x="304.6" y="674.4" width="2" height="1.6" fill="#e0a040" fill-opacity="0.8"/><rect x="297.4" y="677.9" width="5" height="1.2" fill="#b8d8ff" fill-opacity="0.75"/><rect x="304.6" y="677.6" width="2" height="1.6" fill="#d8e8ff" fill-opacity="0.8"/><rect x="297.4" y="681.1" width="5" height="1.2" fill="#b8d8ff" fill-opacity="0.75"/><rect x="304.6" y="680.9" width="2" height="1.6" fill="#d09040" fill-opacity="0.8"/><rect x="297.4" y="684.4" width="5" height="1.2" fill="#b8d8ff" fill-opacity="0.75"/><rect x="304.6" y="684.1" width="2" height="1.6" fill="#c8d8f0" fill-opacity="0.8"/><rect x="107.1" y="705" width="6.8" height="2.6" fill="#c8e4ff" fill-opacity="0.85"/><rect x="109.3" y="708.8" width="2.4" height="0.9" fill="#7ab8ff" fill-opacity="0.7"/><path d="M110.5,712.4 L114.9,721.2 H106.1 Z" fill="#30e0e8" fill-opacity="0.85"/><path d="M110.5,712.4 L112.3,717 H108.7 Z" fill="#d8ffff" fill-opacity="0.8"/><rect x="118.9" y="705" width="6.8" height="2.6" fill="#c8e4ff" fill-opacity="0.85"/><rect x="121.1" y="708.8" width="2.4" height="0.9" fill="#7ab8ff" fill-opacity="0.7"/><path d="M122.3,712.4 L126.8,721.2 H117.9 Z" fill="#30e0e8" fill-opacity="0.85"/><path d="M122.3,712.4 L124.1,717 H120.5 Z" fill="#d8ffff" fill-opacity="0.8"/><rect x="130.8" y="705" width="6.8" height="2.6" fill="#c8e4ff" fill-opacity="0.85"/><rect x="133" y="708.8" width="2.4" height="0.9" fill="#7ab8ff" fill-opacity="0.7"/><path d="M134.2,712.4 L138.6,721.2 H129.8 Z" fill="#30e0e8" fill-opacity="0.85"/><path d="M134.2,712.4 L136,717 H132.4 Z" fill="#d8ffff" fill-opacity="0.8"/><rect x="142.7" y="705" width="6.8" height="2.6" fill="#c8e4ff" fill-opacity="0.85"/><rect x="144.9" y="708.8" width="2.4" height="0.9" fill="#7ab8ff" fill-opacity="0.7"/><path d="M146.1,712.4 L150.5,721.2 H141.7 Z" fill="#30e0e8" fill-opacity="0.85"/><path d="M146.1,712.4 L147.9,717 H144.2 Z" fill="#d8ffff" fill-opacity="0.8"/><rect x="104" y="722.4" width="46" height="1" fill="#2060e0" fill-opacity="0.5"/><rect x="265.6" y="704.2" width="3.6" height="1.1" fill="#a8ccff" fill-opacity="0.7"/><rect x="271.6" y="704.2" width="31" height="1" fill="#38b8f0" fill-opacity="0.75"/><circle cx="302.6" cy="704.7" r="0.8" fill="#e0f8ff"/><rect x="308" y="704.2" width="2.2" height="1.1" fill="#d8a040" fill-opacity="0.7"/><rect x="265.6" y="707.2" width="3.6" height="1.1" fill="#a8ccff" fill-opacity="0.7"/><rect x="271.6" y="707.2" width="25.5" height="1" fill="#38b8f0" fill-opacity="0.75"/><circle cx="297.1" cy="707.7" r="0.8" fill="#e0f8ff"/><rect x="308" y="707.2" width="2.2" height="1.1" fill="#d8a040" fill-opacity="0.7"/><rect x="265.6" y="710.1" width="3.6" height="1.1" fill="#a8ccff" fill-opacity="0.7"/><rect x="271.6" y="710.1" width="21.5" height="1" fill="#38b8f0" fill-opacity="0.75"/><circle cx="293.1" cy="710.6" r="0.8" fill="#e0f8ff"/><rect x="308" y="710.1" width="2.2" height="1.1" fill="#d8a040" fill-opacity="0.7"/><rect x="265.6" y="713.1" width="3.6" height="1.1" fill="#a8ccff" fill-opacity="0.7"/><rect x="271.6" y="713.1" width="16" height="1" fill="#38b8f0" fill-opacity="0.75"/><circle cx="287.6" cy="713.6" r="0.8" fill="#e0f8ff"/><rect x="308" y="713.1" width="2.2" height="1.1" fill="#d8a040" fill-opacity="0.7"/><rect x="265.6" y="716" width="3.6" height="1.1" fill="#a8ccff" fill-opacity="0.7"/><rect x="271.6" y="716" width="11.6" height="1" fill="#38b8f0" fill-opacity="0.75"/><circle cx="283.2" cy="716.5" r="0.8" fill="#e0f8ff"/><rect x="308" y="716" width="2.2" height="1.1" fill="#d8a040" fill-opacity="0.7"/><rect x="265.6" y="719" width="3.6" height="1.1" fill="#a8ccff" fill-opacity="0.7"/><rect x="271.6" y="719" width="8.4" height="1" fill="#38b8f0" fill-opacity="0.75"/><circle cx="280" cy="719.5" r="0.8" fill="#e0f8ff"/><rect x="308" y="719" width="2.2" height="1.1" fill="#d8a040" fill-opacity="0.7"/><rect x="265.6" y="721.9" width="3.6" height="1.1" fill="#a8ccff" fill-opacity="0.7"/><rect x="271.6" y="721.9" width="5.4" height="1" fill="#38b8f0" fill-opacity="0.75"/><circle cx="277" cy="722.4" r="0.8" fill="#e0f8ff"/><rect x="308" y="721.9" width="2.2" height="1.1" fill="#d8a040" fill-opacity="0.7"/><rect x="117" y="737" width="3" height="1" fill="#9cc8ff" fill-opacity="0.7"/><rect x="124.6" y="737" width="3" height="1" fill="#9cc8ff" fill-opacity="0.7"/><rect x="133" y="737" width="4.4" height="1" fill="#d07070" fill-opacity="0.7"/><rect x="103" y="740" width="3" height="1" fill="#d0e4ff" fill-opacity="0.8"/><path d="M109.6,747.6 L111.8,751.6 L112.6,759.8 H109.6 Z" fill="#38d8e8" fill-opacity="0.85"/><path d="M111.2,751.8 L113.2,754.6 L113.8,759.8 H111.2 Z" fill="#f0a030" fill-opacity="0.9"/><path d="M112.6,754.6 L114.2,757 L114.6,759.8 H112.6 Z" fill="#e04830" fill-opacity="0.85"/><path d="M117.1,747.6 L119.3,751.6 L120.1,759.8 H117.1 Z" fill="#38d8e8" fill-opacity="0.85"/><path d="M118.7,751.8 L120.7,754.6 L121.3,759.8 H118.7 Z" fill="#f0a030" fill-opacity="0.9"/><path d="M120.1,754.6 L121.7,757 L122.1,759.8 H120.1 Z" fill="#e04830" fill-opacity="0.85"/><path d="M124.7,747.6 L126.9,751.6 L127.7,759.8 H124.7 Z" fill="#38d8e8" fill-opacity="0.85"/><path d="M126.3,751.8 L128.3,754.6 L128.9,759.8 H126.3 Z" fill="#f0a030" fill-opacity="0.9"/><path d="M127.7,754.6 L129.3,757 L129.7,759.8 H127.7 Z" fill="#e04830" fill-opacity="0.85"/><path d="M132.2,747.6 L134.4,751.6 L135.2,759.8 H132.2 Z" fill="#38d8e8" fill-opacity="0.85"/><path d="M133.8,751.8 L135.8,754.6 L136.4,759.8 H133.8 Z" fill="#f0a030" fill-opacity="0.9"/><path d="M135.2,754.6 L136.8,757 L137.2,759.8 H135.2 Z" fill="#e04830" fill-opacity="0.85"/><path d="M139.8,747.6 L142,751.6 L142.8,759.8 H139.8 Z" fill="#38d8e8" fill-opacity="0.85"/><path d="M141.4,751.8 L143.4,754.6 L144,759.8 H141.4 Z" fill="#f0a030" fill-opacity="0.9"/><path d="M142.8,754.6 L144.4,757 L144.8,759.8 H142.8 Z" fill="#e04830" fill-opacity="0.85"/><rect x="104" y="760.2" width="44" height="0.8" fill="#3a78e8" fill-opacity="0.6"/><rect x="103" y="743.6" width="2" height="0.7" fill="#88b4f8" fill-opacity="0.5"/><rect x="103" y="746.8" width="2" height="0.7" fill="#88b4f8" fill-opacity="0.5"/><rect x="103" y="750" width="2" height="0.7" fill="#88b4f8" fill-opacity="0.5"/><rect x="103" y="753.2" width="2" height="0.7" fill="#88b4f8" fill-opacity="0.5"/><rect x="103" y="756.4" width="2" height="0.7" fill="#88b4f8" fill-opacity="0.5"/><rect x="103" y="759.6" width="2" height="0.7" fill="#88b4f8" fill-opacity="0.5"/><circle cx="163.6" cy="744.6" r="2.9" fill="#2a9ad8" fill-opacity="0.32"/><rect x="161.8" y="750.6" width="3.6" height="0.7" fill="#5a90e8" fill-opacity="0.45"/><circle cx="175.7" cy="744.6" r="2.9" fill="#2a9ad8" fill-opacity="0.32"/><rect x="173.8" y="750.6" width="3.6" height="0.7" fill="#5a90e8" fill-opacity="0.45"/><circle cx="187.7" cy="744.6" r="2.9" fill="#2a9ad8" fill-opacity="0.32"/><rect x="185.9" y="750.6" width="3.6" height="0.7" fill="#5a90e8" fill-opacity="0.45"/><circle cx="199.8" cy="744.6" r="2.9" fill="#2a9ad8" fill-opacity="0.32"/><rect x="197.9" y="750.6" width="3.6" height="0.7" fill="#5a90e8" fill-opacity="0.45"/><circle cx="211.8" cy="744.6" r="2.9" fill="#2a9ad8" fill-opacity="0.32"/><rect x="210" y="750.6" width="3.6" height="0.7" fill="#5a90e8" fill-opacity="0.45"/><circle cx="223.8" cy="744.6" r="2.9" fill="#2a9ad8" fill-opacity="0.75"/><rect x="222.3" y="743.5" width="3" height="2.2" fill="#dff6ff"/><rect x="222" y="750.6" width="3.6" height="0.7" fill="#5a90e8" fill-opacity="0.45"/><circle cx="235.9" cy="744.6" r="2.9" fill="#2a9ad8" fill-opacity="0.32"/><rect x="234.1" y="750.6" width="3.6" height="0.7" fill="#5a90e8" fill-opacity="0.45"/><circle cx="247.9" cy="744.6" r="2.9" fill="#2a9ad8" fill-opacity="0.32"/><rect x="246.1" y="750.6" width="3.6" height="0.7" fill="#5a90e8" fill-opacity="0.45"/><circle cx="163.6" cy="757" r="3.1" fill="#28b8c8" fill-opacity="0.9"/><rect x="162.1" y="755.8" width="3" height="2.4" fill="#d8fbff" fill-opacity="0.9"/><rect x="161.8" y="762.6" width="3.6" height="1.1" fill="#e8f4ff" fill-opacity="0.9"/><circle cx="175.7" cy="757" r="3.1" fill="#28b8c8" fill-opacity="0.9"/><rect x="174.2" y="755.8" width="3" height="2.4" fill="#d8fbff" fill-opacity="0.9"/><rect x="173.8" y="762.6" width="3.6" height="1.1" fill="#e8f4ff" fill-opacity="0.9"/><circle cx="187.7" cy="757" r="3.1" fill="#28b8c8" fill-opacity="0.9"/><rect x="186.2" y="755.8" width="3" height="2.4" fill="#d8fbff" fill-opacity="0.9"/><rect x="185.9" y="762.6" width="3.6" height="1.1" fill="#e8f4ff" fill-opacity="0.9"/><circle cx="199.8" cy="757" r="3.1" fill="#28b8c8" fill-opacity="0.9"/><rect x="198.2" y="755.8" width="3" height="2.4" fill="#d8fbff" fill-opacity="0.9"/><rect x="197.9" y="762.6" width="3.6" height="1.1" fill="#e8f4ff" fill-opacity="0.9"/><circle cx="211.8" cy="757" r="3.1" fill="#28b8c8" fill-opacity="0.9"/><rect x="210.3" y="755.8" width="3" height="2.4" fill="#d8fbff" fill-opacity="0.9"/><rect x="210" y="762.6" width="3.6" height="1.1" fill="#e8f4ff" fill-opacity="0.9"/><circle cx="223.8" cy="757" r="3.1" fill="#28b8c8" fill-opacity="0.9"/><rect x="222.3" y="755.8" width="3" height="2.4" fill="#d8fbff" fill-opacity="0.9"/><rect x="222" y="762.6" width="3.6" height="1.1" fill="#e8f4ff" fill-opacity="0.9"/><circle cx="235.9" cy="757" r="3.1" fill="#28b8c8" fill-opacity="0.9"/><rect x="234.4" y="755.8" width="3" height="2.4" fill="#d8fbff" fill-opacity="0.9"/><rect x="234.1" y="762.6" width="3.6" height="1.1" fill="#e8f4ff" fill-opacity="0.9"/><circle cx="247.9" cy="757" r="3.1" fill="#28b8c8" fill-opacity="0.9"/><rect x="246.4" y="755.8" width="3" height="2.4" fill="#d8fbff" fill-opacity="0.9"/><rect x="246.1" y="762.6" width="3.6" height="1.1" fill="#e8f4ff" fill-opacity="0.9"/><path d="M286,741.5 L296.4,747.9 L290.4,758.1 L279.4,749.1 Z" fill="#1898c8" fill-opacity="0.45" stroke="#30d0e0" stroke-width="0.9"/><path d="M287.6,744.5 L293,749.3 L289.6,755.1 L282.6,749.9 Z" fill="none" stroke="#30c0e0" stroke-width="0.5" stroke-opacity="0.8"/><rect x="268" y="744.6" width="4.6" height="2" fill="#58d0f0" fill-opacity="0.8"/><rect x="268" y="747.4" width="4.6" height="1.1" fill="#b8dcff" fill-opacity="0.7"/><rect x="296.6" y="744.6" width="4.6" height="2" fill="#58d0f0" fill-opacity="0.8"/><rect x="296.6" y="747.4" width="4.6" height="1.1" fill="#b8dcff" fill-opacity="0.7"/><rect x="271.6" y="756" width="4.6" height="2" fill="#58d0f0" fill-opacity="0.8"/><rect x="271.6" y="758.8" width="4.6" height="1.1" fill="#b8dcff" fill-opacity="0.7"/><rect x="294.4" y="756" width="4.6" height="2" fill="#58d0f0" fill-opacity="0.8"/><rect x="294.4" y="758.8" width="4.6" height="1.1" fill="#b8dcff" fill-opacity="0.7"/><rect x="282.6" y="736" width="4.6" height="2" fill="#58d0f0" fill-opacity="0.8"/><rect x="282.6" y="738.8" width="4.6" height="1.1" fill="#b8dcff" fill-opacity="0.7"/><rect x="100.6" y="680" width="1" height="5" fill="#30a8f0" fill-opacity="0.8"/><rect x="261.4" y="680" width="1" height="5" fill="#30a8f0" fill-opacity="0.8"/><rect x="100.6" y="714" width="1" height="5" fill="#30a8f0" fill-opacity="0.8"/><rect x="261.4" y="714" width="1" height="5" fill="#30a8f0" fill-opacity="0.8"/><rect x="100.6" y="749" width="1" height="5" fill="#30a8f0" fill-opacity="0.8"/><rect x="261.4" y="749" width="1" height="5" fill="#30a8f0" fill-opacity="0.8"/><rect x="155.4" y="680" width="1" height="5" fill="#30a8f0" fill-opacity="0.8"/><rect x="208.6" y="680" width="1" height="5" fill="#30a8f0" fill-opacity="0.8"/><path d="M316,690 L262,740 L262,746 L316,700 Z" fill="#6aa8ff" fill-opacity="0.10"/></g></g>
<g><path d="M592,579.8 L613.6,571.6 L614.6,581.2 L610.6,582.2 L598,581.4 Z" fill="#1d1b1a"/><path d="M606,575 L613.6,572.4 L614.4,580.6 L608.4,581.4 Z" fill="#3a3632"/><path d="M533.6,584.8 C534.6,582.9 534.3,583.8 536.6,579 C538.9,574.2 538.5,576.7 540.6,570.4 C542.7,564.1 540.5,568.2 542.8,560 C545.1,551.8 543.1,554.8 547.6,545.8 C552.1,536.8 550.4,539 556.2,533 C562,527 557.3,530.2 565,527.9 C572.7,525.6 570.2,526.1 579.2,526.1 C588.2,526.1 584.4,525.1 592,527.8 C599.6,530.5 595.9,527.8 602,534.2 C608.1,540.6 606.1,538.5 610.4,547 C614.7,555.5 612.1,552.6 614.8,559.8 C617.5,567 617.2,565.7 618.4,568.6 C617.7,569.6 621.2,569.2 616.4,571.6 C611.6,574 612.1,573 604,575.8 C595.9,578.6 601.7,576.3 592,579.9 C582.3,583.5 587.7,583.6 574.9,586.6 C562.1,589.6 565.1,588.4 553.5,588.8 C541.9,589.2 546.6,589.1 540,587.8 C533.4,586.5 535.7,585.8 533.6,584.8 Z" fill="url(#gHelm)"/><path d="M533.6,584.8 C534.7,583.1 534.4,582.7 537,579.6 C539.6,576.5 535.1,576.3 541.4,575.4 C547.7,574.5 545.8,575.9 556,576.8 C566.2,577.7 561,578.7 572,578.2 C583,577.7 578.3,577.7 589,575.2 C599.7,572.7 594.5,573.5 604,570.6 C613.5,567.7 613.1,567.8 617.6,566.4 L618.4,568.6 C617.7,569.6 621.2,569.2 616.4,571.6 C611.6,574 612.1,573 604,575.8 C595.9,578.6 601.7,576.3 592,579.9 C582.3,583.5 587.7,583.6 574.9,586.6 C562.1,589.6 565.1,588.4 553.5,588.8 C541.9,589.2 546.6,589.1 540,587.8 C533.4,586.5 535.7,585.8 533.6,584.8 Z" fill="#eaa51c"/><path d="M541.4,575.4 C546.3,575.9 545.8,575.9 556,576.8 C566.2,577.7 561,578.7 572,578.2 C583,577.7 578.3,577.7 589,575.2 C599.7,572.7 594.5,573.5 604,570.6 C613.5,567.7 613.1,567.8 617.6,566.4" fill="none" stroke="#d48d14" stroke-width="1" stroke-opacity="0.75"/><path d="M592,579.9 C586.3,582.1 587.7,583.6 574.9,586.6 C562.1,589.6 565.1,588.4 553.5,588.8 C541.9,589.2 546.6,589.1 540,587.8 C533.4,586.5 535.7,585.8 533.6,584.8" fill="none" stroke="#c98310" stroke-width="1.2" stroke-opacity="0.7"/><path d="M558,533.4 C566,528.6 584,526.8 596,531.2 C586,529.6 568,530.4 558,533.4 Z" fill="#fbd77a" fill-opacity="0.8"/><path d="M587,538 C596,544 601,556 601.6,565 C597,556 592,545 584,539.6 Z" fill="#f9cc5c" fill-opacity="0.7"/><path d="M556,534 C550,542 546,552 544.4,562 C548.8,552 553,543 560,536 Z" fill="#f7c14a" fill-opacity="0.55"/><path d="M566,530 C560,540 558,556 560,572 C556,556 556.6,540 566,530 Z" fill="#b87808" fill-opacity="0.45"/><path d="M604,537 C610,546 614,558 617,567 L612,568.4 C610,556 607,546 604,537 Z" fill="#b87808" fill-opacity="0.5"/><path d="M574.8,570.4 L589.4,568.6 L590.2,575.4 L576,577.2 Z" fill="#e8a21a" stroke="#b87808" stroke-width="0.8"/><path d="M600.4,567.2 L610.2,564.6 L611,571.4 L602,574 Z" fill="#e8a21a" stroke="#b87808" stroke-width="0.8"/><path d="M540.4,569.4 L542.6,568.6 L543,575 L540.8,575.4 Z" fill="#e8a11c" stroke="#c98310" stroke-width="0.5"/><path d="M614.6,560 L616.6,562 L617.4,568 L615.2,567 Z" fill="#e39c1a"/><circle cx="550.7" cy="562.6" r="4.5" fill="#f6e3b4" fill-opacity="0.9"/><circle cx="550.7" cy="562.6" r="3" fill="none" stroke="#e8a828" stroke-width="1"/><rect x="549.9" y="560.4" width="1.6" height="4.4" rx="0.8" fill="#fff4d8"/></g>
<g><path d="M662,497.2 H687.4 Q689.4,497.2 690.4,498.6 L692,500.8 H700 Q706.2,500.8 706.2,507 V602.4 Q706.2,608.4 700.2,608.4 H649.8 Q643.8,608.4 643.8,602.4 V507 Q643.8,500.8 650,500.8 H657.4 L659,498.6 Q660,497.2 662,497.2 Z" fill="url(#gCard)"/><path d="M662,497.2 H687.4 Q689.4,497.2 690.4,498.6 L692,500.8 H700 Q706.2,500.8 706.2,507 V602.4 Q706.2,608.4 700.2,608.4 H649.8 Q643.8,608.4 643.8,602.4 V507 Q643.8,500.8 650,500.8 H657.4 L659,498.6 Q660,497.2 662,497.2 Z" fill="none" stroke="#c3c5c9" stroke-width="0.8"/><rect x="663" y="498.6" width="23.4" height="3.6" rx="1" fill="#4c5056"/><rect x="664.6" y="499.4" width="20" height="1" fill="#8a8e94"/><path d="M668.4,509.6 l1.2,-1.4 l1.2,1.4 M671.6,509.6 l1.2,-1.4 l1.2,1.4 M674.8,509.6 l1.2,-1.4 l1.2,1.4 M678,509.6 l1.2,-1.4 l1.2,1.4" fill="none" stroke="#8e9196" stroke-width="0.6"/><rect x="649.6" y="578.4" width="1.5" height="3.2" rx="0.7" fill="#33363a"/><rect x="675.6" y="591.8" width="8.8" height="8" rx="1" fill="#f1f1f2" stroke="#a9acb0" stroke-width="0.8"/><path d="M677.4,597.8 L679.2,594 L680.6,597.2 L682.6,593.6" fill="none" stroke="#b3b6ba" stroke-width="0.7"/><circle cx="694.2" cy="596" r="3.7" fill="#f4f4f5" stroke="#a9acb0" stroke-width="0.8"/><circle cx="694.2" cy="596" r="1.5" fill="none" stroke="#c2c4c8" stroke-width="0.6"/><rect x="646" y="603" width="58" height="4" rx="2" fill="#c8cacd" fill-opacity="0.55"/></g>
<g transform="translate(767.8 565.3) rotate(33.6) skewX(-4)"><rect x="-5.6" y="-85.3" width="3.4" height="48" rx="1.7" fill="#2b2c2e"/><rect x="-6.4" y="-43.8" width="5" height="4" fill="#26282b"/><rect x="-6.6" y="-41.2" width="5.4" height="2" fill="#e8641c"/><rect x="11" y="-60.8" width="11" height="25" rx="1.6" fill="#1f2022"/><rect x="12.2" y="-59.8" width="2.4" height="22" fill="#4a4c50"/><rect x="10.6" y="-40.8" width="12" height="4" rx="1" fill="#2a2b2e"/><rect x="-18.3" y="-38.8" width="36.6" height="77.6" rx="5.2" fill="#25272a"/><rect x="-16.8" y="-37.3" width="33.6" height="74.6" rx="4" fill="none" stroke="#e2601c" stroke-width="1.2"/><rect x="-19.4" y="-37.3" width="5" height="8" rx="2" fill="#1c1d1f"/><rect x="-19.4" y="29.3" width="5" height="8" rx="2" fill="#1c1d1f"/><rect x="14.4" y="-37.3" width="5" height="8" rx="2" fill="#1c1d1f"/><rect x="14.4" y="29.3" width="5" height="8" rx="2" fill="#1c1d1f"/><clipPath id="cpScr"><rect x="-14.7" y="-32.3" width="29.4" height="60.1" rx="1.5"/></clipPath><g clip-path="url(#cpScr)"><rect x="-14.7" y="-32.3" width="29.4" height="60.1" fill="url(#gScreen)"/><ellipse cx="1" cy="-6" rx="13" ry="6.5" fill="#f6f4ee" fill-opacity="0.9"/><ellipse cx="-6" cy="-3.5" rx="9" ry="4.4" fill="#efe6d2" fill-opacity="0.85"/><ellipse cx="8" cy="-12" rx="9" ry="3.6" fill="#dfe6e8" fill-opacity="0.75"/><path d="M-15,3 Q-2,-4 15,4 V10 H-15 Z" fill="#e9c060" fill-opacity="0.6"/><path d="M-15,8 Q0,4 15,10 V24 H-15 Z" fill="#3c3018" fill-opacity="0.75"/><path d="M-11,15 L-8,8.6 H0 L2,11.6 H8 L9.6,18 H-11 Z" fill="#e2b21a"/><rect x="-6.4" y="9.8" width="3.6" height="3" fill="#2a2418"/><rect x="-11.6" y="17.2" width="21.6" height="3.4" rx="1.7" fill="#1b1a18"/><rect x="3" y="12.4" width="4" height="4" fill="#f0d060" fill-opacity="0.8"/></g><rect x="-5" y="-36" width="10.4" height="2.2" rx="1.1" fill="#e2601c"/><rect x="-4" y="33.2" width="8" height="1.6" rx="0.8" fill="#e2601c"/><text x="2" y="-16.6" text-anchor="middle" font-size="8.2" fill="#fff" fill-opacity="0.9" font-family="Liberation Sans, sans-serif">08:08</text></g>
<defs><linearGradient id="gBk" x1="0" y1="0" x2="0" y2="1"><stop offset="0" stop-color="#484c53"/><stop offset="1" stop-color="#2c2f34"/></linearGradient><linearGradient id="gBkF" x1="0" y1="0" x2="0" y2="1"><stop offset="0" stop-color="#454950"/><stop offset="1" stop-color="#3a3d43"/></linearGradient><g id="bk"><rect x="0" y="0" width="94.4" height="85.6" rx="6.5" fill="#3b3e44"/><path d="M4,1 H90.4 L68,19.6 H26.4 Z" fill="#484c53"/><path d="M3,84.6 H91.4 L68,60.4 H26.4 Z" fill="#2a2c31"/><path d="M0.6,5 L26.4,19.6 V60.4 L0.6,81 Z" fill="#3a3d43"/><path d="M93.8,5 L68,19.6 V60.4 L93.8,81 Z" fill="#3d4046"/><rect x="26.4" y="19.6" width="41.6" height="40.8" fill="url(#gBkF)"/><path d="M26.4,19.6 H68" stroke="#5a5e66" stroke-width="0.8"/><path d="M26.4,60.4 H68" stroke="#1f2125" stroke-width="0.8"/><ellipse cx="12" cy="42.4" rx="8.4" ry="11.2" fill="#2b2d32"/><ellipse cx="82.4" cy="42.4" rx="8.4" ry="11.2" fill="#2b2d32"/><circle cx="12.4" cy="42.6" r="4.6" fill="#8d9197"/><circle cx="82" cy="42.6" r="4.6" fill="#8d9197"/><circle cx="12.4" cy="42.6" r="2.2" fill="#c7cace"/><circle cx="82" cy="42.6" r="2.2" fill="#c7cace"/><path d="M10.4,40.6 L14.4,44.6 M14.4,40.6 L10.4,44.6" stroke="#5c6066" stroke-width="0.9"/><path d="M80,40.6 L84,44.6 M84,40.6 L80,44.6" stroke="#5c6066" stroke-width="0.9"/><rect x="33" y="31.6" width="27.4" height="21.8" rx="1.6" fill="#cfd2d6"/><rect x="35" y="34" width="10.4" height="5" fill="#3e4147"/><rect x="35" y="40.4" width="10.4" height="5.6" fill="#4a4d53"/><rect x="36.6" y="35.2" width="2.4" height="2.4" fill="#cfd2d6"/><rect x="41" y="41.8" width="2.6" height="2.6" fill="#cfd2d6"/><rect x="37" y="42.4" width="1.6" height="1.6" fill="#cfd2d6"/><rect x="48.6" y="35" width="2" height="4" fill="#6e7177"/><rect x="52.4" y="35" width="2" height="4" fill="#6e7177"/><rect x="56" y="36" width="1.6" height="3" fill="#8a8d92"/><rect x="48.4" y="41" width="4.4" height="5" fill="#3e4147"/><rect x="54.2" y="42.4" width="3.4" height="3.6" fill="#50535a"/><rect x="35" y="47.6" width="14" height="2.2" fill="#5a5d63"/><rect x="50.4" y="48.2" width="6" height="1.4" fill="#8a8d92"/><rect x="0" y="0" width="94.4" height="85.6" rx="6.5" fill="none" stroke="#24262a" stroke-width="0.8" stroke-opacity="0.7"/></g></defs><use href="#bk" x="506.3" y="707.6"/><use href="#bk" x="625.4" y="707.6"/><use href="#bk" x="749.2" y="707.6"/>

<defs>
<filter id="fGlowB" x="-30%" y="-45%" width="160%" height="190%">
<feMorphology in="SourceAlpha" operator="dilate" radius="5.6" result="d"/><feGaussianBlur in="d" stdDeviation="2.2" result="b"/>
<feFlood flood-color="#84c8f1"/><feComposite in2="b" operator="in" result="g"/>
<feMerge><feMergeNode in="g"/><feMergeNode in="SourceGraphic"/></feMerge>
</filter>
<filter id="fGlowR" x="-30%" y="-45%" width="160%" height="190%">
<feMorphology in="SourceAlpha" operator="dilate" radius="5.6" result="d"/><feGaussianBlur in="d" stdDeviation="2.2" result="b"/>
<feFlood flood-color="#d98a8e"/><feComposite in2="b" operator="in" result="g"/>
<feMerge><feMergeNode in="g"/><feMergeNode in="SourceGraphic"/></feMerge>
</filter>
</defs>
<text x="866.8" y="223.8" font-size="39" fill="#fff" filter="url(#fGlowB)" style="font-family:'Liberation Sans','Noto Sans CJK SC',sans-serif;font-weight:400">室外</text>
<text x="882.3" y="771.4" font-size="39" fill="#fff" filter="url(#fGlowR)" style="font-family:'Liberation Sans','Noto Sans CJK SC',sans-serif;font-weight:400">室内</text>
</svg>
<div class="t b" style="left:266.5px;top:134.8px;transform:translate(-50%,-50%) scaleY(0.94);font-size:20px;color:#fff;-webkit-text-stroke:0;text-shadow:0 1px 1.5px rgba(0,40,120,.3);">互联网</div>
<div class="t b" style="left:259.5px;top:309.4px;transform:translate(-50%,-50%) scaleY(0.94);font-size:20.2px;color:#333;">企业内网</div>
</div>
</body>
</html>
